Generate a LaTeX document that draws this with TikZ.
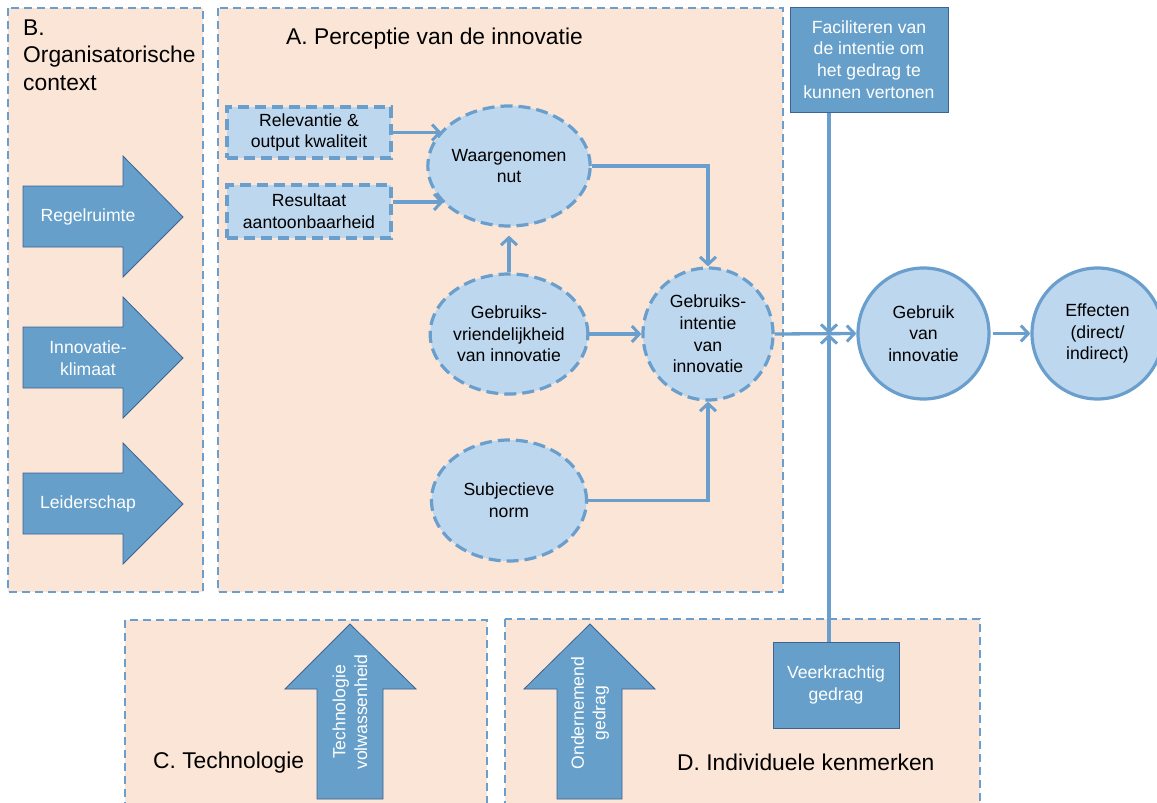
\documentclass[tikz,border=0pt]{standalone}
\usepackage{fontspec}
\setmainfont{Liberation Sans}
\usetikzlibrary{shapes.geometric,arrows.meta,calc}
\definecolor{peach}{HTML}{FBE5D6}
\definecolor{dashblue}{HTML}{6A9FCD}
\definecolor{lightblue}{HTML}{BDD7EE}
\definecolor{blockblue}{HTML}{659FCA}
\definecolor{blockedge}{HTML}{3E6293}
\begin{document}
\begin{tikzpicture}[x=1pt,y=-1pt,
  region/.style={fill=peach, draw=dashblue, line width=2.5pt, dash pattern=on 8pt off 5pt},
  small/.style={font=\fontsize{17.6}{21.6}\selectfont, align=center},
  title/.style={font=\fontsize{22.8}{27.5}\selectfont, inner sep=0pt},
  dbox/.style={small, draw=dashblue, fill=lightblue, line width=3.2pt, dash pattern=on 11pt off 6pt, minimum width=164pt, inner sep=0pt},
  dell/.style={small, ellipse, draw=dashblue, fill=lightblue, line width=3.2pt, dash pattern=on 12pt off 6pt, inner sep=0pt},
  scirc/.style={small, circle, draw=dashblue, fill=lightblue, line width=3.2pt, inner sep=0pt, minimum size=131pt},
  bbox/.style={small, text=white, draw=blockedge, fill=blockblue, line width=1pt},
  block/.style={fill=blockblue, draw=blockedge, line width=0.8pt},
  btext/.style={small, text=white},
  conn/.style={draw=dashblue, line width=3.3pt, -{Straight Barb[length=7.5pt,width=16pt,line width=3pt]}}
]
\useasboundingbox (0,0) rectangle (1157,803);
\clip (0,0) rectangle (1157,803);

% regions
\path[region] (8,8) rectangle (203,592);
\path[region] (218,8) rectangle (783,592);
\path[region] (125,620) rectangle (487,830);
\path[region] (505,619) rectangle (980,830);

% titles
\node[title, anchor=north west, align=left] (tB) at (23,19.5) {B.\\Organisatorische\\context};
\node[title, anchor=base west] (tA) at (286,44.5) {A. Perceptie van de innovatie};
\node[title, anchor=base west] (tC) at (153,768) {C. Technologie};
\node[title, anchor=base west] (tD) at (677,770) {D. Individuele kenmerken};

% block arrows (left)
\path[block] (23,186) -- (123,186) -- (123,156) -- (183,217) -- (123,277) -- (123,247) -- (23,247) -- cycle;
\node[btext] (regel) at (88,217) {Regelruimte};
\path[block] (23,327) -- (123,327) -- (123,297) -- (183,358) -- (123,418) -- (123,388) -- (23,388) -- cycle;
\node[btext] (klim) at (88,358) {Innovatie-\\klimaat};
\path[block] (23,473) -- (123,473) -- (123,443) -- (183,504) -- (123,564) -- (123,534) -- (23,534) -- cycle;
\node[btext] (leid) at (88,504) {Leiderschap};

% up arrows
\path[block] (317,799) -- (317,689) -- (285,689) -- (350,624) -- (416,689) -- (383,689) -- (383,799) -- cycle;
\node[btext, rotate=90] (tech) at (350,712) {Technologie\\volwassenheid};
\path[block] (557,799) -- (557,689) -- (524,689) -- (590,624) -- (655,689) -- (622,689) -- (622,799) -- cycle;
\node[btext, rotate=90] (ond) at (590,713) {Ondernemend\\gedrag};

% boxes in A
\node[dbox, minimum height=51pt] (rel) at (309,132.5) {Relevantie \&\\output kwaliteit};
\node[dbox, minimum height=53pt] (res) at (309,211.5) {Resultaat\\aantoonbaarheid};

% ellipses
\node[dell, minimum width=155pt, minimum height=120pt] (wn) at (509,166) {Waargenomen\\nut};
\node[dell, minimum width=155pt, minimum height=120pt] (gv) at (509,334) {Gebruiks-\\vriendelijkheid\\van innovatie};
\node[dell, minimum width=130pt, minimum height=132pt] (gi) at (708,334) {Gebruiks-\\intentie\\van\\innovatie};
\node[dell, minimum width=155pt, minimum height=121pt] (sn) at (509,500.5) {Subjectieve\\norm};

% right circles
\node[scirc] (gu) at (923.5,333.5) {Gebruik\\van\\innovatie};
\node[scirc] (ef) at (1097.5,333.5) {Effecten\\(direct/\\indirect)};

% dark boxes
\node[bbox, minimum width=158pt, minimum height=105pt, inner sep=0pt] (fac) at (869,59.5) {Faciliteren van\\de intentie om\\het gedrag te\\kunnen vertonen};
\node[bbox, minimum width=126pt, minimum height=86pt, inner sep=0pt] (vk) at (836,685) {Veerkrachtig\\gedrag};

\coordinate (cross) at (829,334);
\coordinate (resout) at ($(res.east)+(0,-9.5)$);

% connectors
\draw[conn] (rel.east) -- (rel.east -| wn.152);
\draw[conn] (resout) -- (resout -| wn.210);
\draw[conn] (wn.east) -| (gi.north);
\draw[conn, shorten >=8pt] (gv.north) -- (wn.south);
\draw[conn] (gv.east) -- (gi.west);
\draw[conn] (sn.east) -| (gi.south);
\draw[conn] (gi.east) -- (gu.west);
\draw[conn] (cross |- fac.south) -- (cross);
\draw[conn] (cross |- vk.north) -- (cross);
\draw[conn, shorten <=2pt] (gu.east) -- (ef.west);
\end{tikzpicture}
\end{document}
